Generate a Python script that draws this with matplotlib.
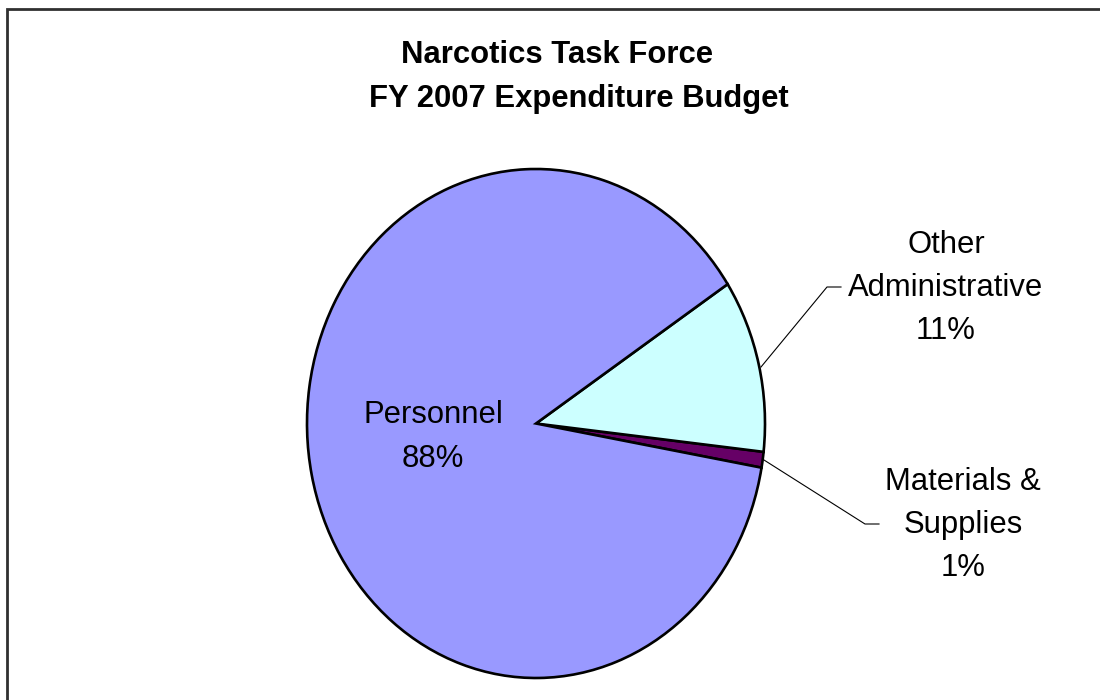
"""Narcotics Task Force FY 2007 expenditure budget, drawn as an Excel-style pie."""

import matplotlib
matplotlib.use("Agg")
from matplotlib import pyplot as plt
from matplotlib.patches import Rectangle

# ---------------------------------------------------------------------------
# Data
# ---------------------------------------------------------------------------

categories = ["Materials &\nSupplies", "Other\nAdministrative", "Personnel"]
shares = [1, 11, 88]
colors = ["#660066", "#CCFFFF", "#9999FF"]

title_lines = ["Narcotics Task Force", "FY 2007 Expenditure Budget"]

plt.rcParams["font.family"] = ["Liberation Sans", "DejaVu Sans"]

W, H = 1100, 700
fig = plt.figure(figsize=(W / 100, H / 100), dpi=100)
fig.patch.set_facecolor("white")


def fx(px):
    return px / W


def fy(py):
    return 1 - py / H


# chart-area frame (runs off the right and bottom edges)
fig.patches.append(Rectangle((fx(7), fy(760)), fx(1200), 760 / H - 9 / H,
                             transform=fig.transFigure, fill=False,
                             edgecolor="#303030", linewidth=2.0))

# the pie is slightly taller than wide, so the axes box is the ellipse bbox
# (padded a little so the outline is not clipped)
pad = 1.01
cx, cy, rx, ry = 536, 423.5, 229 * pad, 254.5 * pad
ax = fig.add_axes([fx(cx - rx), fy(cy + ry), 2 * rx / W, 2 * ry / H])
wedges, _ = ax.pie(shares, colors=colors, startangle=-10, counterclock=True,
                   radius=1.0, wedgeprops=dict(edgecolor="black", linewidth=1.9))
ax.set_aspect("auto")
ax.set_xlim(-pad, pad)
ax.set_ylim(-pad, pad)
ax.axis("off")

for i, line in enumerate(title_lines):
    fig.text(fx([557, 579][i]), fy([55, 99][i]), line, ha="center", va="center",
             fontsize=22.3, fontweight="bold")

label_fs = 22.3
ls = 1.58
fig.text(fx(433), fy(437), f"{categories[2]}\n{shares[2]}%", ha="center",
         va="center", fontsize=label_fs, linespacing=ls)
fig.text(fx(946), fy(288), f"{categories[1]}\n{shares[1]}%", ha="center",
         va="center", fontsize=label_fs, linespacing=ls)
fig.text(fx(963), fy(525), f"{categories[0]}\n{shares[0]}%", ha="center",
         va="center", fontsize=label_fs, linespacing=ls)

# leader lines from wedges to their labels
for pts in ([(761, 367), (827, 287), (841, 287)],
            [(764, 460), (865, 524), (879, 524)]):
    xs = [fx(p[0]) for p in pts]
    ys = [fy(p[1]) for p in pts]
    fig.add_artist(plt.Line2D(xs, ys, transform=fig.transFigure,
                              color="black", linewidth=0.8))

fig.savefig("out.png", dpi=100)
